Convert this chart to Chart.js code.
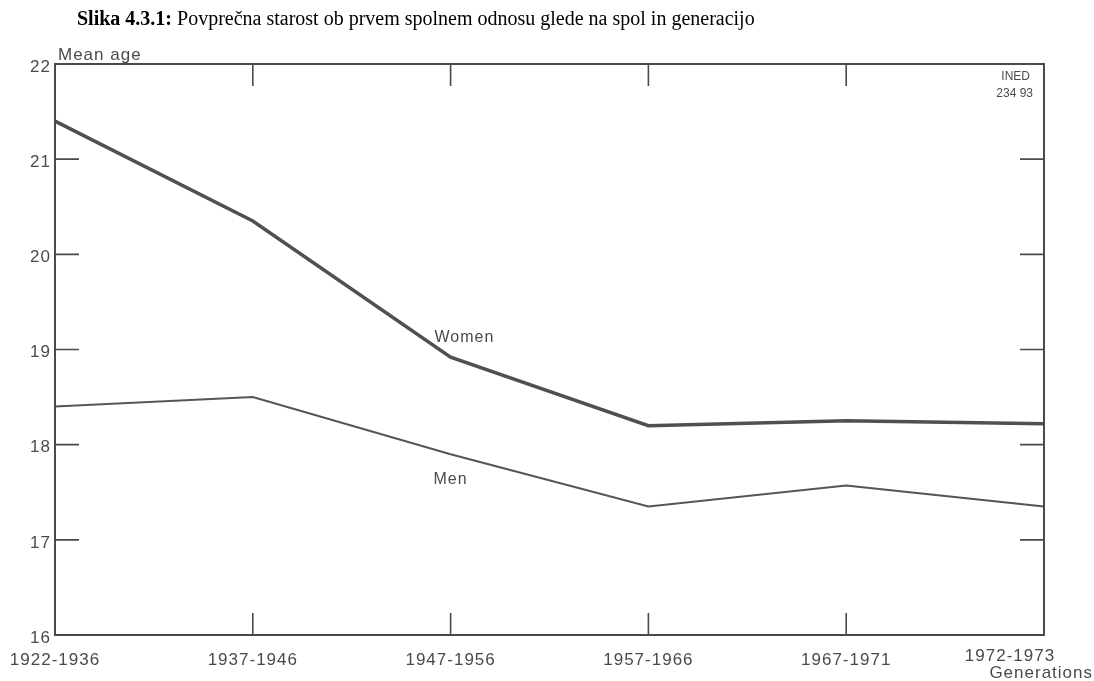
<!DOCTYPE html>
<html>
<head>
<meta charset="utf-8">
<script src="https://cdn.jsdelivr.net/npm/chart.js@4"></script>
<style>
  body { margin:0; background:#fff; }
  #wrap { position:relative; width:1094px; height:681px; }
  #title { position:absolute; left:77px; top:7px; font-family:"Liberation Serif","Times New Roman",serif; font-size:20px; color:#000; white-space:nowrap; }
  canvas { position:absolute; left:0; top:0; }
</style>
</head>
<body>
<div id="wrap">
  <canvas id="c" width="1094" height="681"></canvas>
  <div id="title"><b>Slika 4.3.1:</b> Povprečna starost ob prvem spolnem odnosu glede na spol in generacijo</div>
</div>
<script>
// podatki
var generations = ['1922-1936','1937-1946','1947-1956','1957-1966','1967-1971','1972-1973'];
var women = [21.4, 20.35, 18.92, 18.2, 18.25, 18.22];
var men = [18.4, 18.5, 17.9, 17.35, 17.57, 17.35];
var yTicks = [16, 17, 18, 19, 20, 21, 22];

var ink = '#4a4a4a';
var font = '"Liberation Sans", Arial, sans-serif';

// okvir, kljukice in napisi
var frame = {
  id: 'frame',
  afterDatasetsDraw: function(chart) {
    var ctx = chart.ctx;
    var a = chart.chartArea;
    var xs = chart.scales.x, ys = chart.scales.y;
    ctx.save();
    ctx.strokeStyle = ink;
    ctx.lineWidth = 2;
    ctx.strokeRect(a.left, a.top, a.right - a.left, a.bottom - a.top);

    ctx.lineWidth = 1.6;
    ctx.beginPath();
    for (var i = 1; i < yTicks.length - 1; i++) {
      var py = ys.getPixelForValue(yTicks[i]);
      ctx.moveTo(a.left, py); ctx.lineTo(a.left + 24, py);
      ctx.moveTo(a.right, py); ctx.lineTo(a.right - 24, py);
    }
    for (var j = 1; j < generations.length - 1; j++) {
      var px = xs.getPixelForValue(j);
      ctx.moveTo(px, a.top); ctx.lineTo(px, a.top + 22);
      ctx.moveTo(px, a.bottom); ctx.lineTo(px, a.bottom - 22);
    }
    ctx.stroke();

    ctx.fillStyle = ink;
    ctx.letterSpacing = '1px';
    ctx.font = '17px ' + font;
    ctx.textAlign = 'right';
    ctx.textBaseline = 'middle';
    for (var k = 0; k < yTicks.length; k++) {
      ctx.fillText(String(yTicks[k]), a.left - 4, ys.getPixelForValue(yTicks[k]) + 3);
    }
    ctx.textAlign = 'left';
    ctx.fillText('Mean age', a.left + 3, a.top - 9);

    ctx.textAlign = 'center';
    for (var m = 0; m < generations.length; m++) {
      var lx = xs.getPixelForValue(m);
      var ly = a.bottom + 25;
      if (m == generations.length - 1) { lx -= 34; ly = a.bottom + 21; }
      ctx.fillText(generations[m], lx, ly);
    }
    ctx.textAlign = 'right';
    ctx.fillText('Generations', 1093, a.bottom + 38);

    ctx.font = '16px ' + font;
    ctx.textAlign = 'center';
    ctx.fillText('Women', xs.getPixelForValue(2.07), ys.getPixelForValue(19.12));
    ctx.fillText('Men', xs.getPixelForValue(2.0), ys.getPixelForValue(17.63));

    ctx.letterSpacing = '0px';
    ctx.font = '12px ' + font;
    ctx.textAlign = 'right';
    ctx.fillText('INED', a.right - 14, a.top + 13);
    ctx.fillText('234 93', a.right - 11, a.top + 30);
    ctx.restore();
  }
};

var chart = new Chart(document.getElementById('c'), {
  type: 'line',
  data: {
    labels: generations,
    datasets: [{
      label: 'Women',
      data: women,
      borderColor: '#505050',
      borderWidth: 3.5,
      pointRadius: 0,
      tension: 0
    }, {
      label: 'Men',
      data: men,
      borderColor: '#555',
      borderWidth: 2,
      pointRadius: 0,
      tension: 0
    }]
  },
  options: {
    responsive: false,
    animation: false,
    layout: { padding: { left: 55, right: 50, top: 64, bottom: 46 } },
    plugins: { legend: { display: false }, tooltip: { enabled: false } },
    scales: {
      x: { display: false, offset: false },
      y: { display: false, min: 16, max: 22 }
    }
  },
  plugins: [frame]
});
</script>
</body>
</html>
